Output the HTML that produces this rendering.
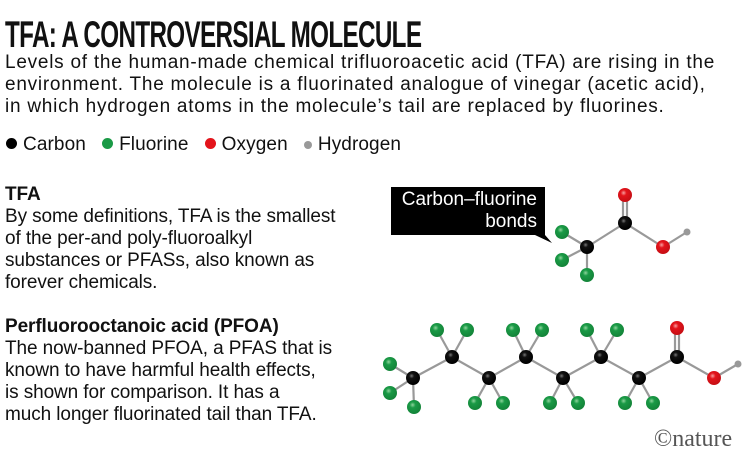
<!DOCTYPE html>
<html><head><meta charset="utf-8"><style>
body{margin:0;width:751px;height:470px;background:#fff;overflow:hidden;position:relative;font-family:"Liberation Sans",sans-serif;color:#111}
.t{position:absolute;white-space:nowrap}
#title{left:5px;top:14px;font-size:37px;font-weight:bold;letter-spacing:-1px;transform:scaleX(0.655);transform-origin:0 0;}
.body{font-size:19px;line-height:22px;letter-spacing:0.75px}
.lb{font-size:19px;line-height:22px;letter-spacing:-0.1px}
.leg{font-size:19px;letter-spacing:0.1px}
.d{display:inline-block;width:11px;height:11px;border-radius:50%;margin-right:6px;vertical-align:1px}
</style></head><body>
<div class="t" id="title">TFA: A CONTROVERSIAL MOLECULE</div>
<div class="t body" style="left:5px;top:52px">Levels of the human-made chemical trifluoroacetic acid (TFA) are rising in the<br>environment. The molecule is a fluorinated analogue of vinegar (acetic acid),<br>in which hydrogen atoms in the molecule’s tail are replaced by fluorines.</div>
<div class="t leg" style="left:6px;top:134px"><span class="d" style="background:#000"></span>Carbon &nbsp;&nbsp;<span class="d" style="background:#1a9a46"></span>Fluorine &nbsp;&nbsp;<span class="d" style="background:#e3141b"></span>Oxygen &nbsp;&nbsp;<span class="d" style="background:#999;width:8px;height:8px"></span>Hydrogen</div>
<div class="t lb" style="left:5px;top:184px"><b>TFA</b><br>By some definitions, TFA is the smallest<br>of the per-and poly-fluoroalkyl<br>substances or PFASs, also known as<br>forever chemicals.</div>
<div class="t lb" style="left:5px;top:316px"><b>Perfluorooctanoic acid (PFOA)</b><br>The now-banned PFOA, a PFAS that is<br>known to have harmful health effects,<br>is shown for comparison. It has a<br>much longer fluorinated tail than TFA.</div>
<div class="t" style="left:391px;top:187px;width:154px;height:48px;background:#000"></div>
<div class="t" style="left:391px;top:189px;width:146px;text-align:right;color:#fff;font-size:19px;line-height:22px">Carbon–fluorine<br>bonds</div>
<svg width="751" height="470" style="position:absolute;left:0;top:0">
<defs>
<radialGradient id="c" cx="0.4" cy="0.35" r="0.6"><stop offset="0" stop-color="#777"/><stop offset="0.3" stop-color="#111"/><stop offset="1" stop-color="#000"/></radialGradient>
<radialGradient id="f" cx="0.4" cy="0.35" r="0.6"><stop offset="0" stop-color="#8fd49c"/><stop offset="0.35" stop-color="#1a9a46"/><stop offset="1" stop-color="#14863a"/></radialGradient>
<radialGradient id="o" cx="0.4" cy="0.35" r="0.6"><stop offset="0" stop-color="#f7a0a0"/><stop offset="0.35" stop-color="#e3141b"/><stop offset="1" stop-color="#c80f15"/></radialGradient>
</defs>
<polygon points="535,235 545,235 552,243" fill="#000"/>
<g stroke="#999" stroke-width="2.2">
<line x1="587" y1="247" x2="625" y2="223"/><line x1="625" y1="223" x2="663" y2="247"/><line x1="663" y1="247" x2="687" y2="232"/>
<line x1="623" y1="223" x2="623" y2="195"/><line x1="627" y1="223" x2="627" y2="195"/>
<line x1="587" y1="247" x2="562" y2="232"/><line x1="587" y1="247" x2="562" y2="260"/><line x1="587" y1="247" x2="587" y2="275"/>
<polyline fill="none" points="413,378 452,357 489,378 526,357 563,378 601,357 639,378 677,357 714,378 738,364"/>
<line x1="675" y1="357" x2="675" y2="328"/><line x1="679" y1="357" x2="679" y2="328"/>
<line x1="413" y1="378" x2="390" y2="364"/><line x1="413" y1="378" x2="390" y2="393"/><line x1="413" y1="378" x2="414" y2="407"/>
<line x1="452" y1="357" x2="437" y2="330"/><line x1="452" y1="357" x2="467" y2="330"/>
<line x1="526" y1="357" x2="513" y2="330"/><line x1="526" y1="357" x2="542" y2="330"/>
<line x1="601" y1="357" x2="587" y2="330"/><line x1="601" y1="357" x2="617" y2="330"/>
<line x1="489" y1="378" x2="475" y2="403"/><line x1="489" y1="378" x2="503" y2="403"/>
<line x1="563" y1="378" x2="550" y2="403"/><line x1="563" y1="378" x2="578" y2="403"/>
<line x1="639" y1="378" x2="625" y2="403"/><line x1="639" y1="378" x2="653" y2="403"/>
</g>
<g fill="url(#c)"><circle cx="587" cy="247" r="7"/><circle cx="625" cy="223" r="7"/>
<circle cx="413" cy="378" r="7"/><circle cx="452" cy="357" r="7"/><circle cx="489" cy="378" r="7"/><circle cx="526" cy="357" r="7"/><circle cx="563" cy="378" r="7"/><circle cx="601" cy="357" r="7"/><circle cx="639" cy="378" r="7"/><circle cx="677" cy="357" r="7"/></g>
<g fill="url(#o)"><circle cx="625" cy="195" r="7"/><circle cx="663" cy="247" r="7"/><circle cx="677" cy="328" r="7"/><circle cx="714" cy="378" r="7"/></g>
<g fill="#999"><circle cx="687" cy="232" r="3.5"/><circle cx="738" cy="364" r="3.5"/></g>
<g fill="url(#f)"><circle cx="562" cy="232" r="7"/><circle cx="562" cy="260" r="7"/><circle cx="587" cy="275" r="7"/>
<circle cx="390" cy="364" r="7"/><circle cx="390" cy="393" r="7"/><circle cx="414" cy="407" r="7"/>
<circle cx="437" cy="330" r="7"/><circle cx="467" cy="330" r="7"/><circle cx="513" cy="330" r="7"/><circle cx="542" cy="330" r="7"/><circle cx="587" cy="330" r="7"/><circle cx="617" cy="330" r="7"/>
<circle cx="475" cy="403" r="7"/><circle cx="503" cy="403" r="7"/><circle cx="550" cy="403" r="7"/><circle cx="578" cy="403" r="7"/><circle cx="625" cy="403" r="7"/><circle cx="653" cy="403" r="7"/></g>
</svg>
<div class="t" style="left:654px;top:426px;font-size:24px;color:#555;font-family:'Liberation Serif',serif">©nature</div>
</body></html>
